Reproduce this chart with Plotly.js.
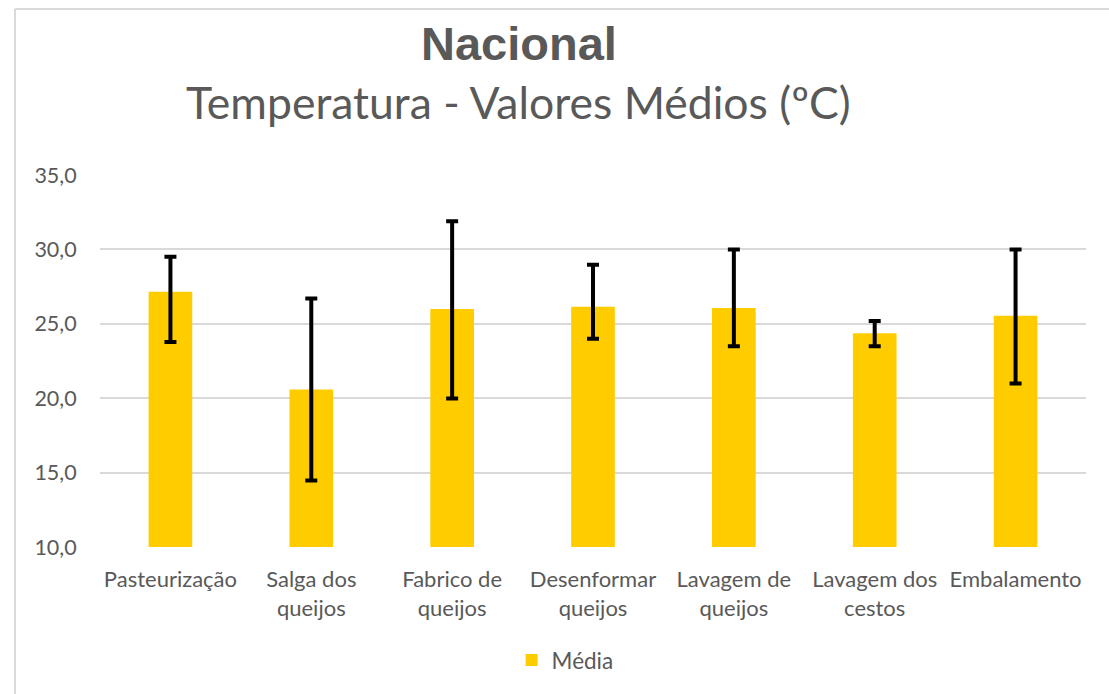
<!DOCTYPE html>
<html>
<head>
<meta charset="utf-8">
<script src="https://cdn.plot.ly/plotly-3.0.1.min.js"></script>
<style>html,body{margin:0;padding:0;background:#fff;}#chart{width:1109px;height:694px;}</style>
</head>
<body>
<div id="chart"></div>
<script>
const categories = ["Pasteurização", "Salga dos<br>queijos", "Fabrico de<br>queijos", "Desenformar<br>queijos", "Lavagem de<br>queijos", "Lavagem dos<br>cestos", "Embalamento"];
const media = [27.15, 20.58, 26.0, 26.14, 26.07, 24.36, 25.54];
const upper = [29.5, 26.7, 31.9, 28.97, 30.0, 25.18, 30.0];
const lower = [23.78, 14.47, 19.98, 24.0, 23.49, 23.49, 20.98];
const yTicks = [10, 15, 20, 25, 30, 35];
const yTickLabels = ["10,0", "15,0", "20,0", "25,0", "30,0", "35,0"];

const plus = media.map((m, i) => upper[i] - m);
const minus = media.map((m, i) => m - lower[i]);

const FONT = "Lato, 'Open Sans', sans-serif";
const GREY = "#595959";

const trace = {
  type: "bar",
  x: categories,
  y: media,
  name: "Média",
  marker: {color: "#FFCC00"},
  error_y: {type: "data", symmetric: false, array: plus, arrayminus: minus, color: "#000000", thickness: 4, width: 6},
  hoverinfo: "x+y"
};

const layout = {
  width: 1109, height: 694,
  margin: {l: 100, r: 23, t: 175, b: 145},
  paper_bgcolor: "#ffffff", plot_bgcolor: "#ffffff",
  bargap: 0.69,
  font: {family: FONT, color: GREY, size: 22},
  showlegend: true,
  legend: {orientation: "h", x: 0.4717, xanchor: "center", y: -0.305, yanchor: "middle", font: {family: FONT, size: 22.5, color: GREY}, itemwidth: 30},
  xaxis: {type: "category", showgrid: false, showline: false, zeroline: false, ticks: "outside", ticklen: 13, tickcolor: "rgba(0,0,0,0)", tickfont: {family: FONT, size: 22, color: GREY}, tickangle: 0, automargin: false},
  yaxis: {range: [10, 35], tickvals: yTicks, ticktext: yTickLabels, showgrid: true, gridcolor: "#d9d9d9", gridwidth: 1.5, zeroline: false, showline: false, ticks: "outside", ticklen: 18, tickcolor: "rgba(0,0,0,0)", tickfont: {family: FONT, size: 21.5, color: GREY}, automargin: false},
  annotations: [
    {text: "<b>Nacional</b>", xref: "paper", yref: "paper", x: 0.4246, y: (549 - 43) / 374, xanchor: "center", yanchor: "middle", showarrow: false, font: {family: "'Liberation Sans', Arial, sans-serif", size: 47, color: GREY}},
    {text: "Temperatura - Valores Médios (ºC)", xref: "paper", yref: "paper", x: 0.4246, y: (549 - 101) / 374, xanchor: "center", yanchor: "middle", showarrow: false, font: {family: FONT, size: 44.5, color: GREY}}
  ],
  shapes: [
    {type: "line", xref: "paper", yref: "paper", x0: -0.0862, x1: 1.03, y0: 1.4465, y1: 1.4465, line: {color: "#d9d9d9", width: 2}},
    {type: "line", xref: "paper", yref: "paper", x0: -0.0862, x1: -0.0862, y0: 1.4465, y1: -0.40, line: {color: "#d9d9d9", width: 2}}
  ]
};

Plotly.newPlot("chart", [trace], layout, {displayModeBar: false, responsive: false});
</script>
</body>
</html>
